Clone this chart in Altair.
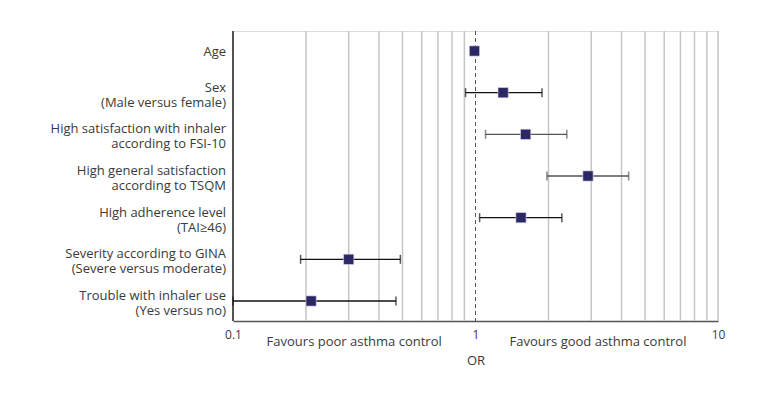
import altair as alt
import pandas as pd

# ---- data ----
line1 = ["Age", "Sex", "High satisfaction with inhaler", "High general satisfaction",
         "High adherence level", "Severity according to GINA", "Trouble with inhaler use"]
line2 = ["", "(Male versus female)", "according to FSI-10", "according to TSQM",
         "(TAI\u226546)", "(Severe versus moderate)", "(Yes versus no)"]
odds_ratio = [0.99, 1.30, 1.61, 2.91, 1.54, 0.30, 0.21]
ci_low = [0.98, 0.91, 1.10, 1.97, 1.04, 0.19, 0.10]
ci_high = [1.01, 1.88, 2.38, 4.28, 2.27, 0.49, 0.47]

grid_values = [0.2, 0.3, 0.4, 0.5, 0.6, 0.7, 0.8, 0.9, 2, 3, 4, 5, 6, 7, 8, 9, 10]
tick_labels = [0.1, 1, 10]
ref_value = [1]
note_text = ["Favours poor asthma control", "Favours good asthma control"]
note_x = [0.316, 3.2]
grey_bars = ["High satisfaction with inhaler", "High general satisfaction"]

df = pd.DataFrame({"label": line1, "sub": line2, "or": odds_ratio,
                   "lo": ci_low, "hi": ci_high})
df["grey"] = df["label"].isin(grey_bars)
grid_df = pd.DataFrame({"g": grid_values})
ref_df = pd.DataFrame({"r": ref_value})
note_df = pd.DataFrame({"t": note_text, "x": note_x})

FONT = "Open Sans"
FS = 13
TXT = "#3a3a3a"
W, H = 485, 290

xscale = alt.Scale(type="log", domain=[0.1, 10], nice=False)
yenc = alt.Y("label:N", sort=line1,
             scale=alt.Scale(type="point", padding=0.48), axis=None)

base = alt.Chart(df)

grid = alt.Chart(grid_df).mark_rule(color="#c6c6c6", strokeWidth=1.5).encode(
    x=alt.X("g:Q", scale=xscale,
            axis=alt.Axis(values=tick_labels, format="~g", ticks=False, grid=False,
                          domainColor="#555555", domainWidth=1.5,
                          labelFont=FONT, labelFontSize=12, labelColor=TXT,
                          labelPadding=8, labelFlush=False,
                          title="OR", titleFont=FONT, titleFontSize=FS,
                          titleFontWeight="normal", titleColor=TXT, titlePadding=14))
)

yaxis_line = alt.Chart(df).mark_rule(color="#555555", strokeWidth=1.5).encode(
    x=alt.value(0), y=alt.value(0), y2=alt.value(H)
)

ref = alt.Chart(ref_df).mark_rule(color="#555555", strokeDash=[4, 3], strokeWidth=1).encode(
    x=alt.X("r:Q", scale=xscale)
)

bar_color = alt.condition("datum.grey", alt.value("#555555"), alt.value("#111111"))

bars = base.mark_rule(strokeWidth=1.4).encode(
    x=alt.X("lo:Q", scale=xscale), x2="hi:Q", y=yenc, color=bar_color
)
cap_lo = base.mark_tick(orient="vertical", size=9, thickness=1.5).encode(
    x=alt.X("lo:Q", scale=xscale), y=yenc, color=bar_color
)
cap_hi = base.mark_tick(orient="vertical", size=9, thickness=1.5).encode(
    x=alt.X("hi:Q", scale=xscale), y=yenc, color=bar_color
)
points = base.mark_square(size=105, color="#2c2765", opacity=1,
                          stroke="#dcdaea", strokeWidth=0.6).encode(
    x=alt.X("or:Q", scale=xscale), y=yenc
)

labels = base.transform_calculate(
    full="datum.sub == '' ? datum.label : datum.label + '\\n' + datum.sub",
    off="datum.sub == '' ? 1 : -5"
).mark_text(
    align="right", baseline="middle", font=FONT, fontSize=FS, color=TXT,
    lineBreak="\n", lineHeight=15
).encode(x=alt.value(-7), y=yenc, yOffset=alt.YOffset("off:Q", scale=None),
         text="full:N")

notes = alt.Chart(note_df).mark_text(
    align="center", baseline="middle", font=FONT, fontSize=FS, color=TXT
).encode(x=alt.X("x:Q", scale=xscale), y=alt.value(H + 21), text="t:N")

chart = alt.layer(grid, ref, yaxis_line, bars, cap_lo, cap_hi, points,
                  labels, notes).properties(
    width=W, height=H,
    padding={"left": 42, "top": 22, "right": 5, "bottom": 5}
).configure_view(stroke=None).configure(background="white")

chart.save("out.html", embed_options={"renderer": "svg", "actions": False})
